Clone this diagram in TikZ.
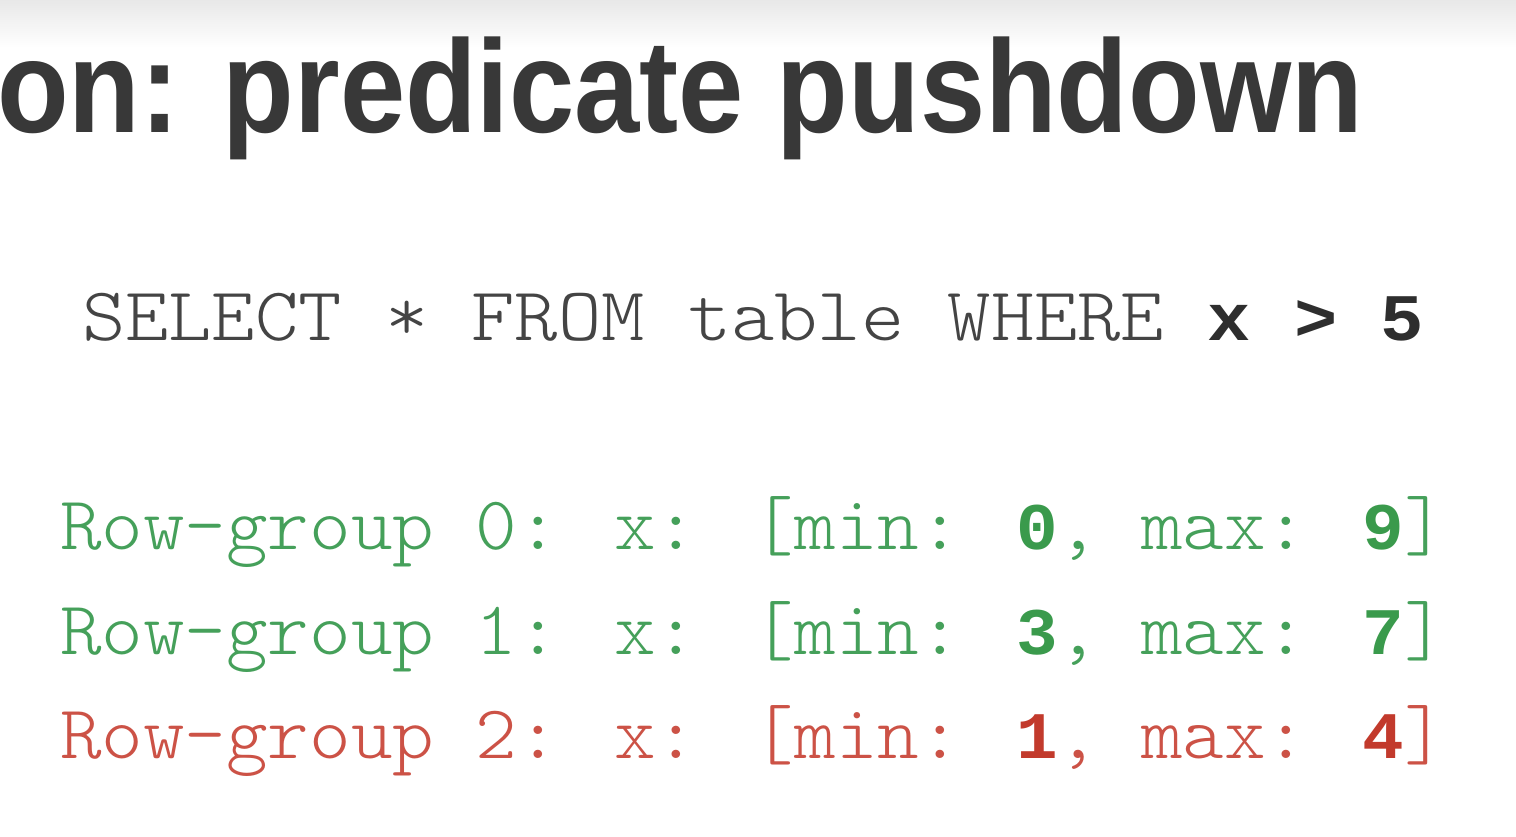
\documentclass[tikz,border=0pt]{standalone}
\usepackage{fontspec}
\setmainfont{Liberation Sans}
\newfontfamily\courb[Scale=0.875]{Liberation Mono}
\newfontfamily\lmlight{Latin Modern Mono Light}
\usepackage{graphicx}
\definecolor{titlegray}{HTML}{383838}
\definecolor{sqlgray}{HTML}{444444}
\definecolor{sqldark}{HTML}{2E2E2E}
\definecolor{okgreen}{HTML}{45A05A}
\definecolor{okgreenb}{HTML}{3A9A4C}
\definecolor{badred}{HTML}{CC5246}
\definecolor{badredb}{HTML}{C23A2C}
\tikzset{
  line/.style={anchor=base west, inner sep=0pt, outer sep=0pt},
}
\newcommand{\codefont}{\lmlight\fontsize{76}{76}\selectfont}
\newcommand{\bnum}[1]{{\courb\bfseries #1}}
\begin{document}
\begin{tikzpicture}[x=1pt,y=1pt]
\useasboundingbox (0,0) rectangle (1516,-836);
\fill[white] (0,0) rectangle (1516,-836);
\shade[top color=black!9, bottom color=white] (0,0) rectangle (1516,-48);
% title
\node[line, text=titlegray] (title) at (-3,-132)
  {\resizebox{1366pt}{\height}{\fontsize{132}{132}\selectfont\bfseries on: predicate pushdown}};
% SQL
\node[line, text=sqlgray] (sql) at (82,-340)
  {\resizebox{1342pt}{\height}{\codefont SELECT * FROM table WHERE \textcolor{sqldark}{\bnum{x > 5}}}};
% row groups
\node[line, text=okgreen] (rg0) at (60,-549)
  {\resizebox{1386pt}{\height}{\codefont Row-group 0: x: [min: \textcolor{okgreenb}{\bnum{0}}, max: \textcolor{okgreenb}{\bnum{9}}]}};
\node[line, text=okgreen] (rg1) at (60,-654)
  {\resizebox{1386pt}{\height}{\codefont Row-group 1: x: [min: \textcolor{okgreenb}{\bnum{3}}, max: \textcolor{okgreenb}{\bnum{7}}]}};
\node[line, text=badred] (rg2) at (60,-758)
  {\resizebox{1386pt}{\height}{\codefont Row-group 2: x: [min: \textcolor{badredb}{\bnum{1}}, max: \textcolor{badredb}{\bnum{4}}]}};
\end{tikzpicture}
\end{document}
